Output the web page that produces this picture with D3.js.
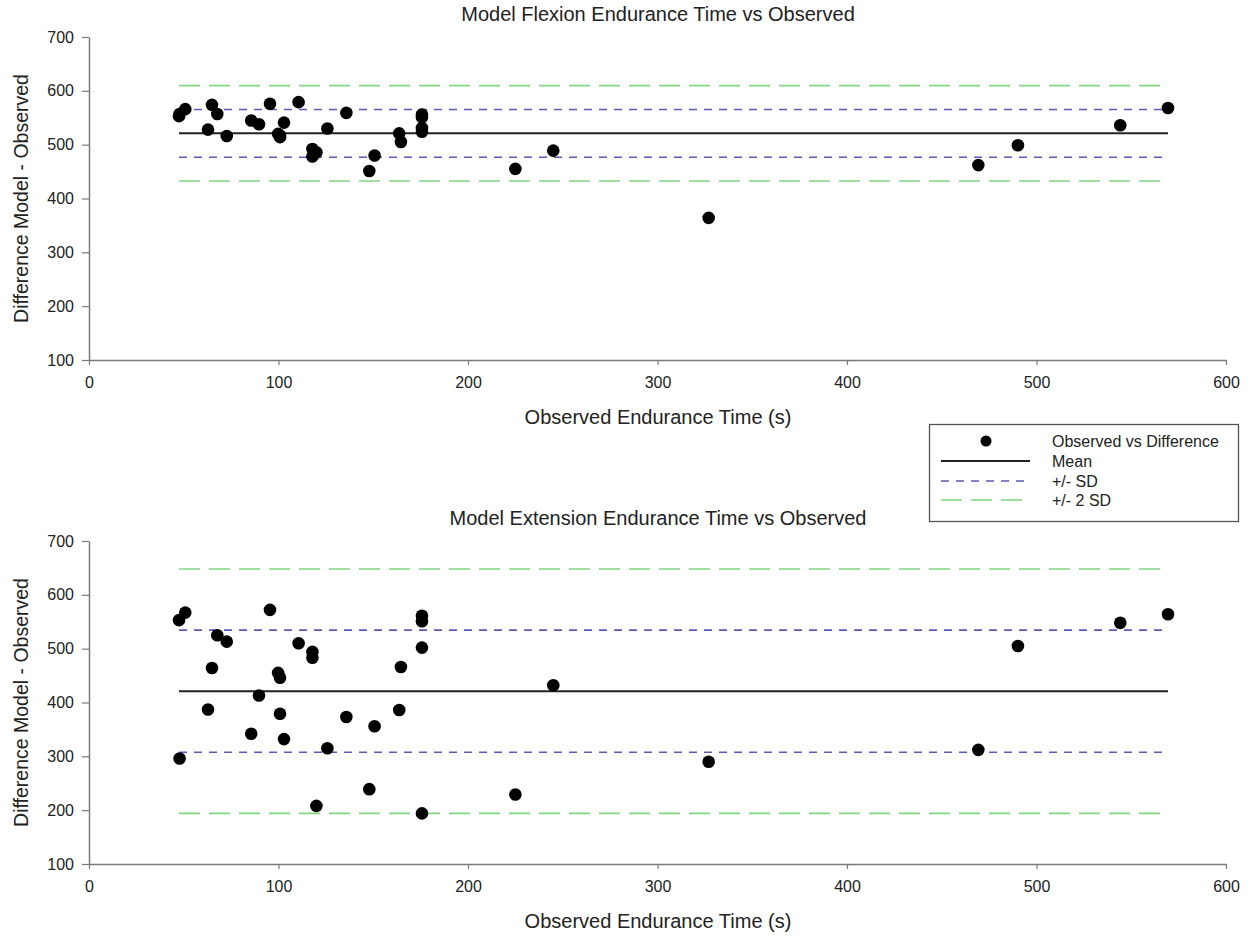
<!DOCTYPE html>
<html>
<head>
<meta charset="utf-8">
<script src="https://cdn.jsdelivr.net/npm/d3@7/dist/d3.min.js"></script>
<style>
  html, body { margin: 0; padding: 0; background: #fff; }
  svg { display: block; font-family: "Liberation Sans", Arial, sans-serif; }
</style>
</head>
<body>
<svg id="chart" width="1256" height="936"></svg>
<script>
// ---------- data ----------
const observed = [47.5, 47.8, 50.8, 62.8, 64.9, 67.7, 72.7, 85.6, 89.7, 95.5, 99.8, 100.8, 100.8,
  102.9, 110.6, 117.9, 117.9, 120.0, 125.8, 135.8, 147.9, 150.7, 163.7, 164.6,
  175.7, 175.7, 175.7, 175.7, 225.0, 245.0, 327.0, 469.3, 490.2, 544.2, 569.4];
const flexionDiff = [553, 557, 566, 528, 574, 557, 516, 545, 538, 576, 520, 514, 517,
  541, 579, 492, 478, 486, 530, 559, 451, 480, 521, 505,
  556, 551, 531, 524, 455, 489, 364, 462, 499, 536, 568];
const extensionDiff = [553, 296, 567, 387, 464, 525, 513, 342, 413, 572, 455, 446, 379,
  332, 510, 494, 483, 208, 315, 373, 239, 356, 386, 466,
  561, 551, 502, 194, 229, 432, 290, 312, 505, 548, 564];
const flexionMean = 521, flexionSD = 44.3;
const extensionMean = 421, extensionSD = 113.5;
const xTicks = [0, 100, 200, 300, 400, 500, 600];
const yTicks = [100, 200, 300, 400, 500, 600, 700];
const titles = ["Model Flexion Endurance Time vs Observed", "Model Extension Endurance Time vs Observed"];
const xTitle = "Observed Endurance Time (s)";
const yTitle = "Difference Model - Observed";
const legendLabels = ["Observed vs Difference", "Mean", "+/- SD", "+/- 2 SD"];

// ---------- styles ----------
const axisColor = "#7a7a7a";
const textColor = "#222";
const sdColor = "#5a5ab8";
const sd2Color = "#7fd87f";

const svg = d3.select("#chart");
const x = d3.scaleLinear().domain([0, 600]).range([89, 1226]);

function panel(top, diffs, mean, sd, title) {
  const y = d3.scaleLinear().domain([100, 700]).range([top + 323, top]);
  const g = svg.append("g");

  // axes
  const ax = g.append("g").attr("transform", `translate(0,${y(100)})`)
    .call(d3.axisBottom(x).tickValues(xTicks).tickFormat(d3.format("d")).tickSize(5).tickSizeOuter(0));
  const ay = g.append("g").attr("transform", `translate(${x(0)},0)`)
    .call(d3.axisLeft(y).tickValues(yTicks).tickFormat(d3.format("d")).tickSize(7).tickSizeOuter(0));
  [ax, ay].forEach(a => {
    a.select(".domain").attr("stroke", axisColor).attr("stroke-width", 1.5);
    a.selectAll(".tick line").attr("stroke", axisColor).attr("stroke-width", 1.2);
    a.selectAll(".tick text").attr("fill", textColor).style("font-size", "16px")
      .style("font-family", "'Liberation Sans', Arial, sans-serif");
  });
  ax.selectAll(".tick text").attr("dy", "1.25em");
  ay.selectAll(".tick text").attr("x", -15);

  // reference lines
  const x0 = d3.min(observed), x1 = d3.max(observed);
  const refs = [
    {v: mean + 2 * sd, c: sd2Color, dash: "21,9", w: 1.6},
    {v: mean - 2 * sd, c: sd2Color, dash: "21,9", w: 1.6},
    {v: mean + sd, c: sdColor, dash: "8,7", w: 1.6},
    {v: mean - sd, c: sdColor, dash: "8,7", w: 1.6},
    {v: mean, c: "#222", dash: null, w: 2}
  ];
  g.selectAll("line.ref").data(refs).enter().append("line")
    .attr("x1", x(x0)).attr("x2", x(x1))
    .attr("y1", d => y(d.v)).attr("y2", d => y(d.v))
    .attr("stroke", d => d.c).attr("stroke-width", d => d.w)
    .attr("stroke-dasharray", d => d.dash);

  // points
  g.selectAll("circle.pt").data(observed.map((o, i) => [o, diffs[i]])).enter().append("circle")
    .attr("cx", d => x(d[0])).attr("cy", d => y(d[1])).attr("r", 6.3).attr("fill", "#000");

  // titles
  g.append("text").attr("x", 658).attr("y", top - 16).attr("text-anchor", "middle")
    .attr("fill", textColor).style("font-size", "20px").text(title);
  g.append("text").attr("x", 658).attr("y", y(100) + 64).attr("text-anchor", "middle")
    .attr("fill", textColor).style("font-size", "20px").text(xTitle);
  g.append("text").attr("transform", `translate(28,${(y(100) + y(700)) / 2}) rotate(-90)`)
    .attr("text-anchor", "middle").attr("fill", textColor).style("font-size", "19.5px").text(yTitle);
}

panel(37, flexionDiff, flexionMean, flexionSD, titles[0]);
panel(541, extensionDiff, extensionMean, extensionSD, titles[1]);

// ---------- legend ----------
const lg = svg.append("g");
lg.append("rect").attr("x", 929.5).attr("y", 424.5).attr("width", 309).attr("height", 97)
  .attr("fill", "#fff").attr("stroke", "#555").attr("stroke-width", 1.3);
const rowsY = [441, 461, 481, 500];
lg.append("circle").attr("cx", 986).attr("cy", rowsY[0]).attr("r", 5.5).attr("fill", "#000");
const legLines = [
  {c: "#222", dash: null, w: 2},
  {c: sdColor, dash: "8,7", w: 1.6},
  {c: sd2Color, dash: "21,9", w: 1.6}
];
legLines.forEach((d, i) => {
  lg.append("line").attr("x1", 941).attr("x2", 1030)
    .attr("y1", rowsY[i + 1]).attr("y2", rowsY[i + 1])
    .attr("stroke", d.c).attr("stroke-width", d.w).attr("stroke-dasharray", d.dash);
});
legendLabels.forEach((t, i) => {
  lg.append("text").attr("x", 1052).attr("y", rowsY[i] + 6).attr("fill", textColor)
    .style("font-size", "16px").text(t);
});
</script>
</body>
</html>
